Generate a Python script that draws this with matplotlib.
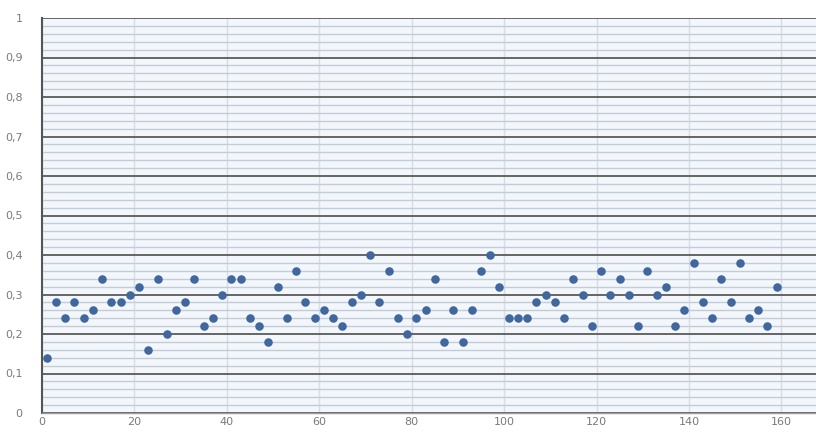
import matplotlib
matplotlib.use("Agg")
import matplotlib.pyplot as plt
from matplotlib.ticker import MultipleLocator, FuncFormatter

x_values = list(range(1, 160, 2))
y_values = [
    0.14, 0.28, 0.24, 0.28, 0.24, 0.26, 0.34, 0.28, 0.28, 0.30,
    0.32, 0.16, 0.34, 0.20, 0.26, 0.28, 0.34, 0.22, 0.24, 0.30,
    0.34, 0.34, 0.24, 0.22, 0.18, 0.32, 0.24, 0.36, 0.28, 0.24,
    0.26, 0.24, 0.22, 0.28, 0.30, 0.40, 0.28, 0.36, 0.24, 0.20,
    0.24, 0.26, 0.34, 0.18, 0.26, 0.18, 0.26, 0.36, 0.40, 0.32,
    0.24, 0.24, 0.24, 0.28, 0.30, 0.28, 0.24, 0.34, 0.30, 0.22,
    0.36, 0.30, 0.34, 0.30, 0.22, 0.36, 0.30, 0.32, 0.22, 0.26,
    0.38, 0.28, 0.24, 0.34, 0.28, 0.38, 0.24, 0.26, 0.22, 0.32,
]
x_ticks = [0, 20, 40, 60, 80, 100, 120, 140, 160]
y_ticks = [0, 0.1, 0.2, 0.3, 0.4, 0.5, 0.6, 0.7, 0.8, 0.9, 1]

fig = plt.figure(figsize=(8.16, 4.32), dpi=100)
ax = fig.add_axes([42 / 816, 19 / 432, 1 - 42 / 816, (413 - 18) / 432])
ax.set_facecolor('#f3f7fc')

ax.set_xlim(0, 167.5)
ax.set_ylim(0, 1)
ax.set_xticks(x_ticks)
ax.set_yticks(y_ticks)
ax.yaxis.set_minor_locator(MultipleLocator(0.02))
ax.yaxis.set_major_formatter(FuncFormatter(
    lambda v, p: '0' if v == 0 else ('1' if v == 1 else f"{v:.1f}".replace('.', ','))))

ax.grid(axis='x', which='major', color='#d8dde4', linewidth=1.0, zorder=0)
ax.grid(axis='y', which='minor', color='#c3cdd8', linewidth=1.0, zorder=0)
ax.grid(axis='y', which='major', color='#5a5a5a', linewidth=1.3, zorder=1)

for s in ['top', 'right']:
    ax.spines[s].set_visible(False)
ax.spines['left'].set_color('#555555')
ax.spines['left'].set_linewidth(1.5)
ax.spines['bottom'].set_color('#9a9a9a')
ax.spines['bottom'].set_linewidth(1.0)

ax.tick_params(axis='both', which='both', length=0, labelsize=8, labelcolor='#7a7a7a')
ax.tick_params(axis='y', pad=14)
ax.tick_params(axis='x', pad=3)

ax.scatter(x_values, y_values, s=38, color='#41679f', zorder=3, linewidths=0)

fig.savefig('out.png', dpi=100)
